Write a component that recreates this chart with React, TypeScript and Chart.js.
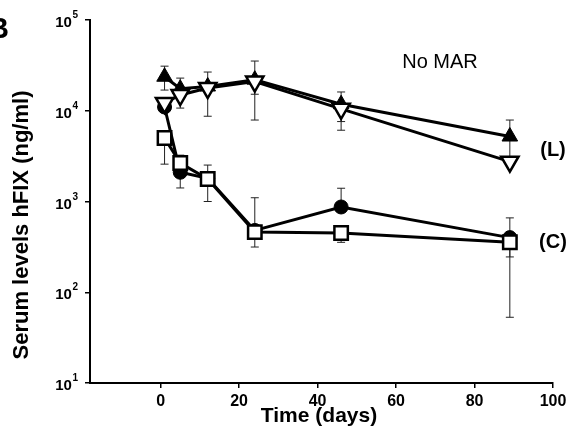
import React, { useEffect, useRef } from "react";
import { Chart, registerables } from "chart.js";

Chart.register(...registerables);

const days = [1, 5, 12, 24, 46, 89];
const xTickValues = [0, 20, 40, 60, 80, 100];
const yTickValues = [10, 100, 1000, 10000, 100000];

const lFilledTri = [23700, 17500, 18500, 22000, 11800, 5200];
const lFilledTriHi = [31000, 22900, 26700, 35300, 16100, 7900];
const lFilledTriLo = [16900, null, null, 15200, 7600, 3000];

const lOpenTri = [12200, 14900, 17800, 21000, 10500, 2750];
const lOpenTriHi = [null, null, null, null, null, null];
const lOpenTriLo = [null, 10700, 8700, 7900, 6100, null];

const cCircle = [11000, 2100, 1800, 480, 870, 400];
const cCircleHi = [null, null, null, null, 1400, 660];
const cCircleLo = [null, 1410, null, null, null, 245];

const cSquare = [5000, 2650, 1770, 460, 450, 355];
const cSquareHi = [null, 3240, 2520, 1100, null, null];
const cSquareLo = [2580, null, 1000, 315, 355, 53];

const FONT = "'Liberation Sans', Arial, sans-serif";

type Err = { hi: (number | null)[]; lo: (number | null)[] };

const errorBarPlugin = {
  id: "errorBars",
  beforeDatasetsDraw(chart: any) {
    const ctx = chart.ctx;
    const xs = chart.scales.x;
    const ys = chart.scales.y;
    ctx.save();
    ctx.strokeStyle = "#222";
    ctx.lineWidth = 1;
    chart.data.datasets.forEach((ds: any) => {
      const err: Err = ds.errors;
      if (!err) return;
      ds.data.forEach((pt: any, i: number) => {
        const px = xs.getPixelForValue(pt.x);
        const py = ys.getPixelForValue(pt.y);
        const cap = 4;
        [err.hi[i], err.lo[i]].forEach((v) => {
          if (v == null) return;
          const ey = ys.getPixelForValue(v);
          ctx.beginPath();
          ctx.moveTo(px, py);
          ctx.lineTo(px, ey);
          ctx.moveTo(px - cap, ey);
          ctx.lineTo(px + cap, ey);
          ctx.stroke();
        });
      });
    });
    ctx.restore();
  },
};

// Draws the y tick labels as "10" with a real superscript exponent at the scale's tick positions
const logTickLabelPlugin = {
  id: "logTickLabels",
  afterDraw(chart: any) {
    const ctx = chart.ctx;
    const ys = chart.scales.y;
    ctx.save();
    ctx.fillStyle = "#000";
    ys.ticks.forEach((t: any) => {
      const py = ys.getPixelForValue(t.value);
      const exp = String(Math.round(Math.log10(t.value)));
      ctx.font = `bold 10px ${FONT}`;
      const ew = ctx.measureText(exp).width;
      const right = 78;
      ctx.textAlign = "left";
      ctx.textBaseline = "alphabetic";
      ctx.fillText(exp, right - ew, py - 2);
      ctx.font = `bold 15px ${FONT}`;
      ctx.textAlign = "right";
      ctx.fillText("10", right - ew - 0.5, py + 7);
    });
    ctx.restore();
  },
};

const textPlugin = {
  id: "texts",
  afterDraw(chart: any) {
    const ctx = chart.ctx;
    ctx.save();
    ctx.fillStyle = "#000";
    ctx.font = `bold 29px ${FONT}`;
    ctx.textAlign = "right";
    ctx.textBaseline = "alphabetic";
    ctx.fillText("B", 9, 38);

    ctx.textAlign = "center";
    ctx.textBaseline = "middle";
    ctx.font = `bold 21px ${FONT}`;
    ctx.fillText("Time (days)", 319, 416);

    ctx.save();
    ctx.translate(22, 225);
    ctx.rotate(-Math.PI / 2);
    ctx.font = `bold 22px ${FONT}`;
    ctx.fillText("Serum levels hFIX (ng/ml)", 0, 0);
    ctx.restore();

    ctx.font = `20px ${FONT}`;
    ctx.fillText("No MAR", 440, 62);
    ctx.font = `bold 20px ${FONT}`;
    ctx.fillText("(L)", 553, 150);
    ctx.fillText("(C)", 553, 242);
    ctx.restore();
  },
};

function pts(vals: number[]) {
  return days.map((d, i) => ({ x: d, y: vals[i] }));
}

export default function App() {
  const ref = useRef<HTMLCanvasElement | null>(null);
  useEffect(() => {
    if (!ref.current) return;
    const chart = new Chart(ref.current, {
      type: "scatter",
      data: {
        datasets: [
          {
            data: pts(lOpenTri),
            errors: { hi: lOpenTriHi, lo: lOpenTriLo },
            showLine: true,
            borderColor: "#000",
            borderWidth: 3,
            pointStyle: "triangle",
            rotation: 180,
            pointRadius: 10,
            pointBackgroundColor: "#fff",
            pointBorderColor: "#000",
            pointBorderWidth: 2.5,
            order: 1,
          } as any,
          {
            data: pts(lFilledTri),
            errors: { hi: lFilledTriHi, lo: lFilledTriLo },
            showLine: true,
            borderColor: "#000",
            borderWidth: 3,
            pointStyle: "triangle",
            pointRadius: 9,
            pointBackgroundColor: "#000",
            pointBorderColor: "#000",
            pointBorderWidth: 1,
            order: 2,
          } as any,
          {
            data: pts(cSquare),
            errors: { hi: cSquareHi, lo: cSquareLo },
            showLine: true,
            borderColor: "#000",
            borderWidth: 3,
            pointStyle: "rect",
            pointRadius: 9.5,
            pointBackgroundColor: "#fff",
            pointBorderColor: "#000",
            pointBorderWidth: 2.5,
            order: 3,
          } as any,
          {
            data: pts(cCircle),
            errors: { hi: cCircleHi, lo: cCircleLo },
            showLine: true,
            borderColor: "#000",
            borderWidth: 3,
            pointStyle: "circle",
            pointRadius: 7,
            pointBackgroundColor: "#000",
            pointBorderColor: "#000",
            pointBorderWidth: 1,
            order: 4,
          } as any,
        ],
      },
      options: {
        animation: false,
        responsive: false,
        layout: { padding: { left: 0, right: 22, top: 20, bottom: 0 } },
        plugins: { legend: { display: false }, tooltip: { enabled: false } },
        scales: {
          x: {
            type: "linear",
            min: -18,
            max: 100,
            afterBuildTicks: (s: any) => {
              s.ticks = xTickValues.map((v) => ({ value: v }));
            },
            afterFit: (s: any) => {
              s.height = 56;
            },
            grid: { drawOnChartArea: false, drawTicks: true, tickLength: 5, color: "#000", lineWidth: 1.5 },
            border: { display: true, color: "#000", width: 2 },
            ticks: {
              color: "#000",
              padding: 4,
              maxRotation: 0,
              font: { family: FONT, size: 16, weight: "bold" },
              callback: (v: any) => String(v),
            },
          },
          y: {
            type: "logarithmic",
            min: 10,
            max: 100000,
            afterBuildTicks: (s: any) => {
              s.ticks = yTickValues.map((v) => ({ value: v }));
            },
            afterFit: (s: any) => {
              s.width = 90;
            },
            grid: { drawOnChartArea: false, drawTicks: true, tickLength: 5, color: "#000", lineWidth: 1.5 },
            border: { display: true, color: "#000", width: 2 },
            ticks: { display: false },
          },
        },
      } as any,
      plugins: [errorBarPlugin, logTickLabelPlugin, textPlugin],
    });
    return () => chart.destroy();
  }, []);
  return (
    <div style={{ position: "absolute", left: 0, top: 0, width: 575, height: 439, background: "#fff" }}>
      <canvas ref={ref} width={575} height={439} />
    </div>
  );
}
